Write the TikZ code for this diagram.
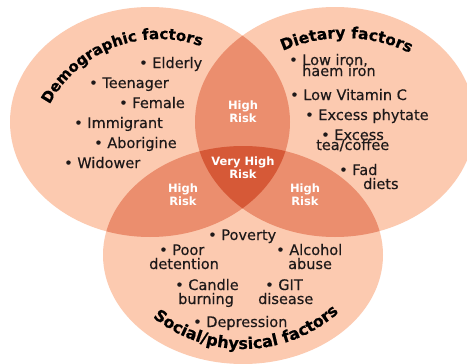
\documentclass[tikz,border=0pt]{standalone}
\usepackage{fontspec}
\setmainfont{DejaVu Sans}
\newfontfamily\itemfam{DejaVu Sans}[FakeBold=0.4]
\newfontfamily\hdrfam{DejaVu Sans}[FakeBold=0.6]
\usetikzlibrary{decorations.text}
\definecolor{peach}{RGB}{252,202,176}
\definecolor{midpeach}{RGB}{235,142,110}
\definecolor{darkpeach}{RGB}{214,89,55}
\definecolor{ink}{RGB}{30,25,25}
\newcommand\hdrA{\hdrfam\bfseries\fontsize{15}{18}\selectfont}
\newcommand\hdrB{\hdrfam\bfseries\fontsize{15.5}{18}\selectfont}
\newcommand\hdrC{\hdrfam\bfseries\fontsize{16}{18}\selectfont}
\tikzset{
  item/.style={inner sep=0pt, anchor=base west, text=ink, font=\itemfam\fontsize{14.5}{16}\selectfont},
  risk/.style={inner sep=0pt, align=center, text=white, font=\bfseries\fontsize{11.5}{13}\selectfont},
}
\begin{document}
\begin{tikzpicture}[x=1pt,y=1pt]
\clip (0,0) rectangle (467,-364);
\fill[white] (0,0) rectangle (467,-364);
% circles
\fill[peach] (150,-122) ellipse [x radius=140, y radius=115];
\fill[peach] (335,-122) ellipse [x radius=140, y radius=115];
\fill[peach] (243,-255) ellipse [x radius=140, y radius=109];
\begin{scope}
  \clip (150,-122) ellipse [x radius=140, y radius=115];
  \fill[midpeach] (335,-122) ellipse [x radius=140, y radius=115];
  \fill[midpeach] (243,-255) ellipse [x radius=140, y radius=109];
\end{scope}
\begin{scope}
  \clip (335,-122) ellipse [x radius=140, y radius=115];
  \fill[midpeach] (243,-255) ellipse [x radius=140, y radius=109];
\end{scope}
\begin{scope}
  \clip (150,-122) ellipse [x radius=140, y radius=115];
  \clip (335,-122) ellipse [x radius=140, y radius=115];
  \fill[darkpeach] (243,-255) ellipse [x radius=140, y radius=109];
\end{scope}
% headers
\path[decorate, decoration={text along path, text align=center, text={|\hdrA|Demographic factors}}]
  ([shift={(163:124)}]159,-163) arc [start angle=163, end angle=59, radius=124];
\path[decorate, decoration={text along path, text align=center, text={|\hdrB|Dietary factors}}]
  ([shift={(120:152)}]344,-190) arc [start angle=120, end angle=58, radius=152];
\path[decorate, decoration={text along path, text align=center, text={|\hdrC|Social/physical factors}}]
  ([shift={(222:144)}]243,-205) arc [start angle=222, end angle=321, radius=144];
% risk labels
\node[risk] (r1) at (243,-111.5) {High\\Risk};
\node[risk] (r0) at (243,-167.5) {Very High\\Risk};
\node[risk] (r2) at (183,-194.5) {High\\Risk};
\node[risk] (r3) at (305,-194.5) {High\\Risk};
% demographic
\node[item] (d1) at (139,-68) {• Elderly};
\node[item] (d2) at (89,-88) {• Teenager};
\node[item] (d3) at (119,-108) {• Female};
\node[item] (d4) at (74,-128) {• Immigrant};
\node[item] (d5) at (94,-148) {• Aborigine};
\node[item] (d6) at (64,-168) {• Widower};
% dietary
\node[item] (e1) at (289,-65) {• Low iron,};
\node[item] (e1b) at (302,-76) {haem iron};
\node[item] (e2) at (290,-100) {• Low Vitamin C};
\node[item] (e3) at (305,-120) {• Excess phytate};
\node[item] (e4) at (321,-140) {• Excess};
\node[item] (e4b) at (316,-150) {tea/coffee};
\node[item] (e5) at (339,-175) {• Fad};
\node[item] (e5b) at (363,-189) {diets};
% social
\node[item] (s1) at (208,-240) {• Poverty};
\node[item] (s2) at (159,-255) {• Poor};
\node[item] (s2b) at (149,-269) {detention};
\node[item] (s3) at (276,-255) {• Alcohol};
\node[item] (s3b) at (288,-269) {abuse};
\node[item] (s4) at (175,-290) {• Candle};
\node[item] (s4b) at (178,-304) {burning};
\node[item] (s5) at (265,-290) {• GIT};
\node[item] (s5b) at (258,-304) {disease};
\node[item] (s6) at (193,-327) {• Depression};
\end{tikzpicture}
\end{document}
